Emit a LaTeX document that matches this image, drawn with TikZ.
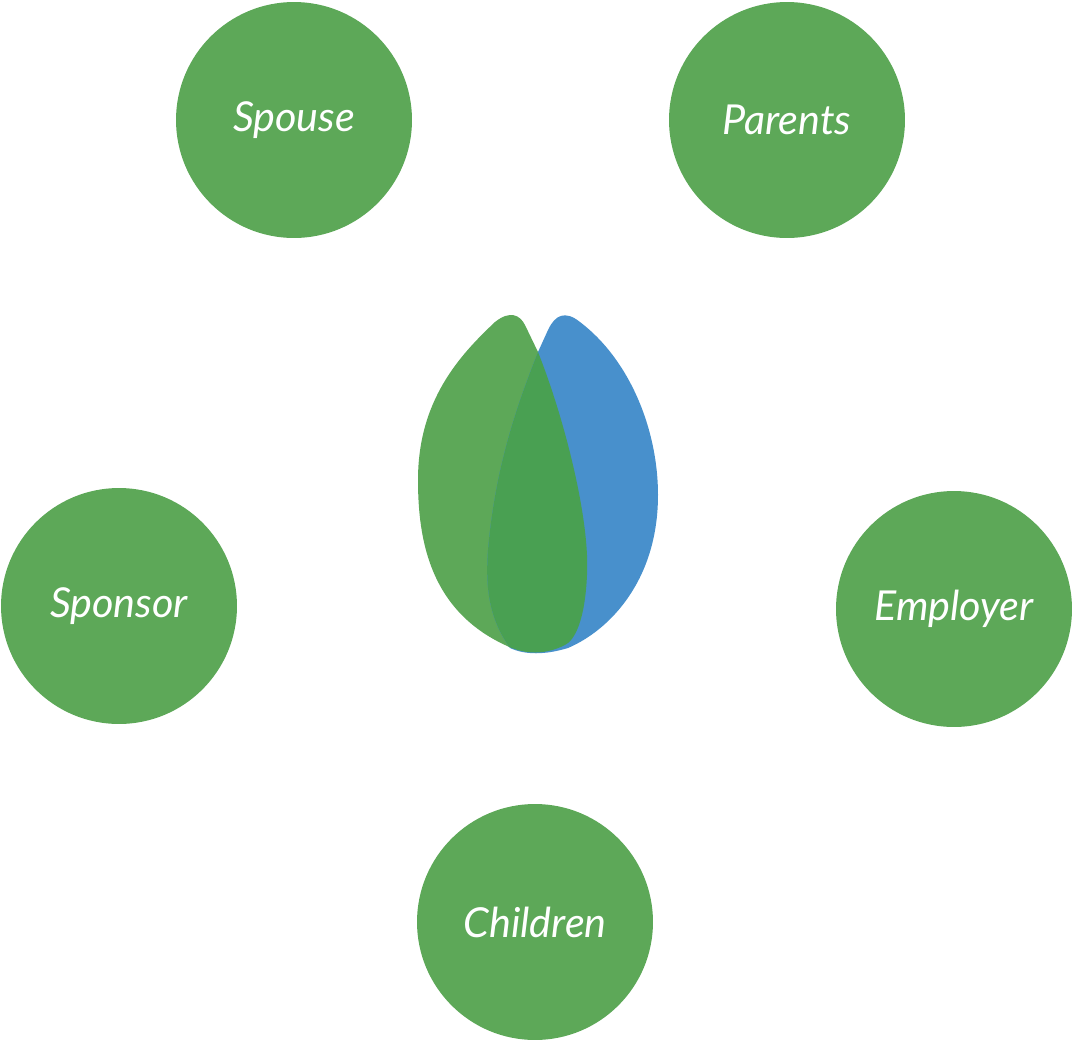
\documentclass[tikz,border=0pt]{standalone}
\usepackage{fontspec}
\setmainfont{Lato}
\usetikzlibrary{positioning}
\definecolor{leafgreen}{HTML}{5DA858}
\definecolor{leafblue}{HTML}{4890CC}
\definecolor{leafdark}{HTML}{49A052}
\tikzset{role/.style={circle,fill=leafgreen,minimum size=4.72cm,inner sep=0pt,
  text=white,font=\fontsize{23.5}{27}\selectfont\itshape}}
\newcommand{\greenleaf}{(505,645) .. controls (430,610) and (418,540) .. (418,480)
  .. controls (418,400) and (460,355) .. (495,322)
  .. controls (510,310) and (520,315) .. (525,325)
  -- (538,352) .. controls (565,420) and (590,520) .. (587,575)
  .. controls (585,620) and (575,640) .. (565,645)
  .. controls (545,655) and (525,655) .. cycle}
\newcommand{\blueleaf}{(538,352) -- (548,330)
  .. controls (555,315) and (565,310) .. (580,322)
  .. controls (630,360) and (658,430) .. (658,495)
  .. controls (658,580) and (610,630) .. (568,648)
  .. controls (545,655) and (525,655) .. (510,648)
  .. controls (490,620) and (485,590) .. (488,550)
  .. controls (495,470) and (515,410) .. cycle}
\begin{document}
\begin{tikzpicture}[x=0.02cm,y=-0.02cm]
\useasboundingbox (0,0) rectangle (1073,1042);

% family members around the applicant
\path (294,120) node (spouse) [role] {Spouse}
      (787,120) node (parents) [role] {Parents}
      (119,606) node (sponsor) [role] {Sponsor}
      (954,609) node (employer) [role] {Employer}
      (535,922) node (children) [role] {Children};

% the two leaves
\fill[leafgreen] \greenleaf;
\fill[leafblue] \blueleaf;
\begin{scope}
  \clip \greenleaf;
  \fill[leafdark] \blueleaf;
\end{scope}

\end{tikzpicture}
\end{document}
